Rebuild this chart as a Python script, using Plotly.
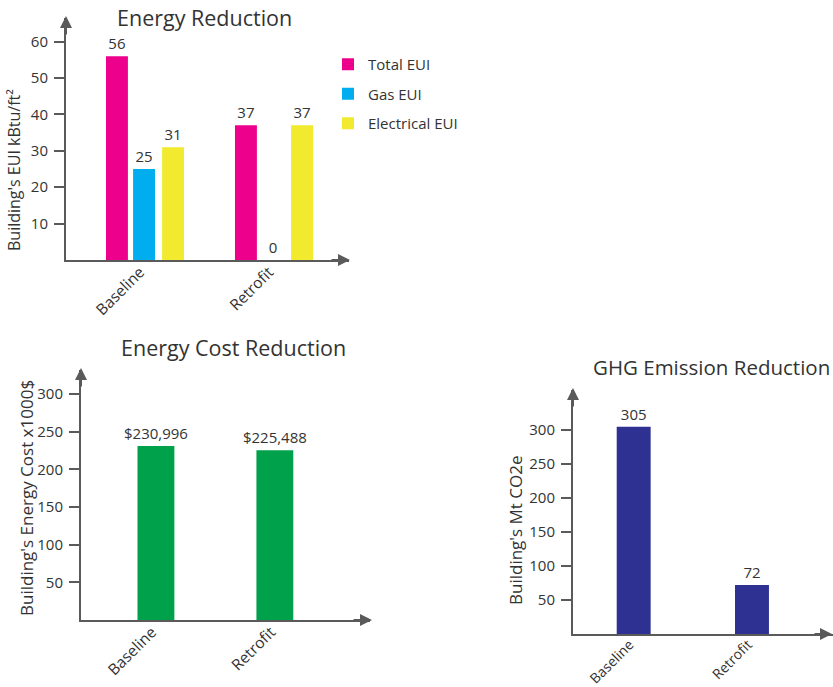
import plotly.graph_objects as go

# ---------------- data ----------------
categories = ["Baseline", "Retrofit"]
total_eui = [56, 37]
gas_eui = [25, 0]
elec_eui = [31, 37]
eui_ticks = [10, 20, 30, 40, 50, 60]

energy_cost_dollars = [230996, 225488]
cost_ticks = [50, 100, 150, 200, 250, 300]

ghg_mt = [305, 72]
ghg_ticks = [50, 100, 150, 200, 250, 300]

# ---------------- styling ----------------
W, H = 833, 687
FONT = "Open Sans"
TXT = "#333333"
AX = "#5a5a5a"
C_TOTAL = "#EC008C"
C_GAS = "#00AEEF"
C_ELEC = "#F2EA2E"
C_COST = "#00A14B"
C_GHG = "#2E3192"


def px(x):
    return x / W


def py(y):
    return 1 - y / H


fig = go.Figure()

# Chart 1 : Energy Reduction
bw1 = 0.17
fig.add_trace(go.Bar(x=categories, y=total_eui, name="Total EUI", marker_color=C_TOTAL,
                     width=bw1, offset=-0.295, text=total_eui, textposition="outside",
                     xaxis="x", yaxis="y", legendgroup="a"))
fig.add_trace(go.Bar(x=categories, y=gas_eui, name="Gas EUI", marker_color=C_GAS,
                     width=bw1, offset=-0.085, text=gas_eui, textposition="outside",
                     xaxis="x", yaxis="y", legendgroup="b"))
fig.add_trace(go.Bar(x=categories, y=elec_eui, name="Electrical EUI", marker_color=C_ELEC,
                     width=bw1, offset=0.14, text=elec_eui, textposition="outside",
                     xaxis="x", yaxis="y", legendgroup="c"))

# Chart 2 : Energy Cost Reduction
cost_k = [v / 1000 for v in energy_cost_dollars]
cost_lbl = ["${:,}".format(v) for v in energy_cost_dollars]
fig.add_trace(go.Bar(x=categories, y=cost_k, marker_color=C_COST, width=0.31,
                     text=cost_lbl, textposition="outside", showlegend=False,
                     xaxis="x2", yaxis="y2"))

# Chart 3 : GHG Emission Reduction
fig.add_trace(go.Bar(x=categories, y=ghg_mt, marker_color=C_GHG, width=0.287,
                     text=ghg_mt, textposition="outside", showlegend=False,
                     xaxis="x3", yaxis="y3"))

fig.update_traces(textfont=dict(size=15, color=TXT, family=FONT), cliponaxis=False,
                  constraintext="none", marker_line_width=0)

common_x = dict(type="category", showline=True, linecolor=AX, linewidth=2,
                showgrid=False, zeroline=False, ticks="", tickangle=-45, automargin=False,
                ticklabelstandoff=-5, ticklabelshift=-4,
                tickfont=dict(size=15.5, color=TXT, family=FONT))
common_y = dict(showline=True, linecolor=AX, linewidth=2, showgrid=False, automargin=False,
                zeroline=False, ticks="outside", ticklen=10, tickwidth=1.5,
                tickcolor=AX, ticklabelstandoff=3, tickfont=dict(size=15, color=TXT, family=FONT))

fig.update_layout(
    width=W, height=H, autosize=False,
    margin=dict(l=0, r=0, t=0, b=0, pad=0, autoexpand=False),
    paper_bgcolor="white", plot_bgcolor="white",
    barmode="overlay",
    font=dict(family=FONT, color=TXT),
    xaxis=dict(common_x, domain=[px(66), px(349)], range=[-0.605, 1.589], anchor="y"),
    yaxis=dict(common_y, domain=[py(260), py(18)], range=[0, 66.5], tickvals=eui_ticks, anchor="x"),
    xaxis2=dict(common_x, domain=[px(81), px(370)], range=[-0.63, 1.80], anchor="y2"),
    yaxis2=dict(common_y, domain=[py(620), py(370)], range=[0, 332], tickvals=cost_ticks, anchor="x2"),
    xaxis3=dict(common_x, domain=[px(573), 1.0], range=[-0.513, 1.685], anchor="y3",
                tickfont=dict(size=14, color=TXT, family=FONT)),
    yaxis3=dict(common_y, domain=[py(634), py(390)], range=[0, 359], tickvals=ghg_ticks, anchor="x3"),
    legend=dict(x=px(328), y=py(48), xanchor="left", yanchor="top",
                font=dict(size=15, color=TXT, family=FONT), tracegroupgap=7,
                traceorder="grouped", bgcolor="rgba(0,0,0,0)"),
)

annotations = []
# titles
for txt, x, y, s in [("Energy Reduction", 204, 17, 21.5), ("Energy Cost Reduction", 233, 347, 21.5),
                     ("GHG Emission Reduction", 711, 367, 20.5)]:
    annotations.append(dict(text=txt, x=px(x), y=py(y), xref="paper", yref="paper",
                            showarrow=False, xanchor="center", yanchor="middle",
                            font=dict(size=s, color=TXT, family=FONT)))
# axis titles
for txt, x, y, s in [("Building's EUI kBtu/ft²", 14, 170, 16),
                     ("Building's Energy Cost x1000$", 26, 498, 17),
                     ("Building's Mt CO2e", 515, 530, 17)]:
    annotations.append(dict(text=txt, x=px(x), y=py(y), xref="paper", yref="paper",
                            showarrow=False, textangle=-90, xanchor="center", yanchor="middle",
                            font=dict(size=s, color=TXT, family=FONT)))
# axis arrows
for (x, y, ax, ay) in [(66, 16, 0, 20), (350, 260, -20, 0),
                       (81, 368, 0, 20), (372, 620, -20, 0),
                       (573, 388, 0, 20), (833, 634, -20, 0)]:
    annotations.append(dict(text="", x=px(x), y=py(y), xref="paper", yref="paper",
                            showarrow=True, ax=ax, ay=ay, arrowhead=2, arrowsize=1.2,
                            arrowwidth=2, arrowcolor=AX))
fig.update_layout(annotations=annotations)

fig.write_html("out.html", config={"displayModeBar": False},
               post_script="document.body.style.margin='0';")
